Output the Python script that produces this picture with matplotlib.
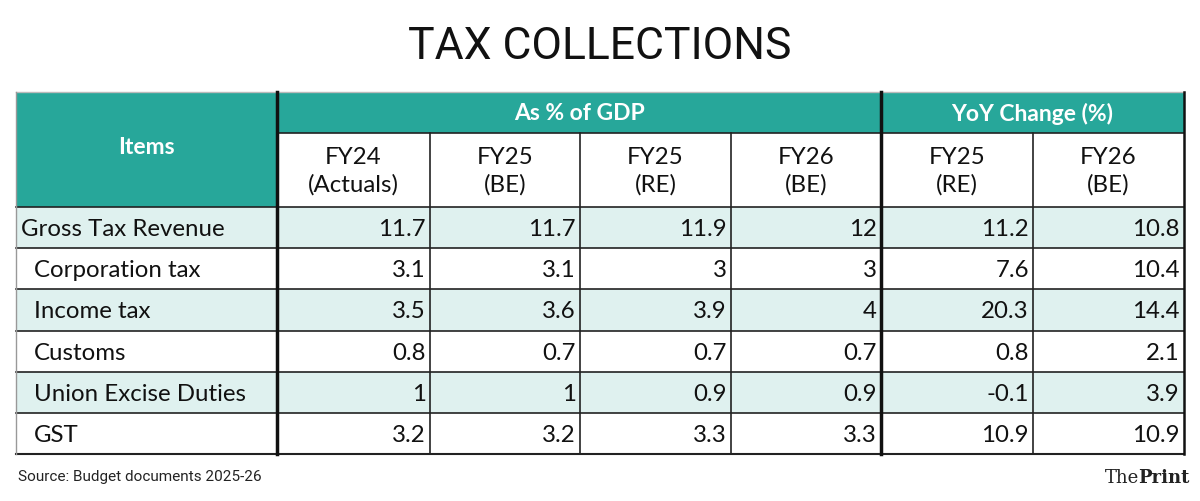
import matplotlib
matplotlib.use("Agg")
import matplotlib.pyplot as plt
from matplotlib.patches import Rectangle

title = "TAX COLLECTIONS"
group_headers = ["As % of GDP", "YoY Change (%)"]
col_headers = ["FY24\n(Actuals)", "FY25\n(BE)", "FY25\n(RE)", "FY26\n(BE)", "FY25\n(RE)", "FY26\n(BE)"]
items = ["Gross Tax Revenue", "Corporation tax", "Income tax", "Customs", "Union Excise Duties", "GST"]
values = [
    ["11.7", "11.7", "11.9", "12", "11.2", "10.8"],
    ["3.1", "3.1", "3", "3", "7.6", "10.4"],
    ["3.5", "3.6", "3.9", "4", "20.3", "14.4"],
    ["0.8", "0.7", "0.7", "0.7", "0.8", "2.1"],
    ["1", "1", "0.9", "0.9", "-0.1", "3.9"],
    ["3.2", "3.2", "3.3", "3.3", "10.9", "10.9"],
]
source = "Source: Budget documents 2025-26"

TEAL = "#27a79a"
LIGHT = "#dff1ef"
FONT = "Lato"
FS = 17.3

fig = plt.figure(figsize=(12, 5.01), dpi=100)
ax = fig.add_axes([0, 0, 1, 1])
ax.set_xlim(0, 1200)
ax.set_ylim(501, 0)
ax.axis("off")

xs = [16, 277, 430, 580, 731, 881, 1033, 1184]
y0, y1, y2 = 92, 133, 207
ybot = 454
rh = (ybot - y2) / len(items)

ax.text(600, 47, title, ha="center", va="center", fontsize=32, family="Roboto",
        color="#111", stretch="condensed")

ax.add_patch(Rectangle((xs[0], y0), xs[1] - xs[0], y2 - y0, color=TEAL, lw=0))
ax.add_patch(Rectangle((xs[1], y0), xs[-1] - xs[1], y1 - y0, color=TEAL, lw=0))
ax.text((xs[0] + xs[1]) / 2, (y0 + y2) / 2 - 2, "Items", ha="center", va="center",
        fontsize=16.5, family=FONT, weight="bold", color="white")
ax.text((xs[1] + xs[5]) / 2, (y0 + y1) / 2 + 1, group_headers[0], ha="center", va="center",
        fontsize=16.5, family=FONT, weight="bold", color="white")
ax.text((xs[5] + xs[7]) / 2, (y0 + y1) / 2 + 1, group_headers[1], ha="center", va="center",
        fontsize=16.5, family=FONT, weight="bold", color="white")
for i, h in enumerate(col_headers):
    ax.text((xs[i + 1] + xs[i + 2]) / 2, (y1 + y2) / 2 + 1, h, ha="center", va="center",
            fontsize=FS, family=FONT, color="#111", linespacing=1.35)

for r, (name, row) in enumerate(zip(items, values)):
    top = y2 + r * rh
    if r % 2 == 0:
        ax.add_patch(Rectangle((xs[0], top), xs[-1] - xs[0], rh, color=LIGHT, lw=0))
    indent = 21 if r == 0 else 34
    ax.text(indent, top + rh / 2 + 2, name, ha="left", va="center", fontsize=FS,
            family=FONT, color="#111")
    for c, v in enumerate(row):
        ax.text(xs[c + 2] - 4, top + rh / 2 + 2, v, ha="right", va="center", fontsize=FS,
                family=FONT, color="#111")
    ax.plot([xs[0], xs[-1]], [top, top], color="#222", lw=1.2)
ax.plot([xs[1], xs[-1]], [y1, y1], color="#222", lw=1.2)
ax.plot([xs[0], xs[-1]], [ybot, ybot], color="#222", lw=1.5)
ax.plot([xs[0], xs[-1]], [y0, y0], color="#bbb", lw=1)

for i, x in enumerate(xs):
    if i in (1, 5):
        ax.plot([x, x], [y0, ybot], color="#111", lw=2.5)
    elif i == 0:
        ax.plot([x, x], [y0, ybot], color="#999", lw=1)
    elif i == len(xs) - 1:
        ax.plot([x, x], [y0, ybot], color="#111", lw=1.8)
    else:
        ax.plot([x, x], [y1, ybot], color="#222", lw=1.2)

ax.text(18, 477, source, ha="left", va="center", fontsize=11, family="Roboto",
        color="#222", stretch="condensed")
ax.text(1105, 478, "The", ha="left", va="center", fontsize=13, family="DejaVu Serif", color="#222")
ax.text(1138, 478, "Print", ha="left", va="center", fontsize=13, family="DejaVu Serif",
        weight="bold", color="#222")

fig.savefig("out.png", dpi=100, facecolor="white")
